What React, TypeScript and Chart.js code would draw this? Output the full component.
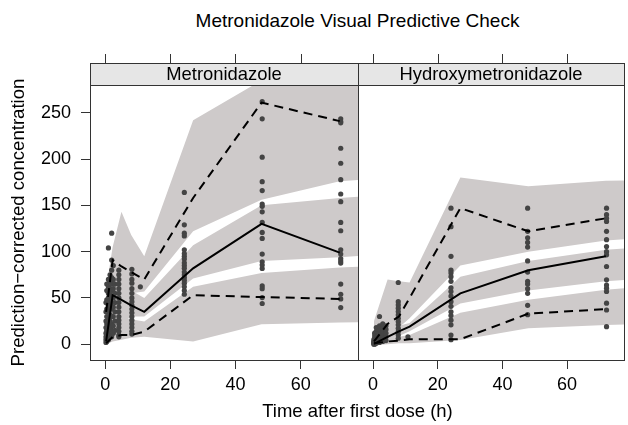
import React, { useEffect, useRef } from "react";
import { Chart, registerables } from "chart.js";

Chart.register(...registerables);

const FONT = "'Liberation Sans', Arial, Helvetica, sans-serif";
const BAND = "#cecaca";
const POINT = "#444444";
const FRAME = "#333333";
const STRIP_FILL = "#e6e6e6";
const STRIP_TOP = 63;

// ---------- shared axes ----------
const xTicks = [0, 20, 40, 60];
const yTicks = [0, 50, 100, 150, 200, 250];
const xRange = [-4.65, 77.6];
const yRange = [-17, 280];

// ---------- Metronidazole panel ----------
const binTimesMetro = [0.3, 2.3, 5, 8, 12, 27, 48, 72];
const medianMetro = [3, 53, 48, 42, 35, 82, 130, 99];
const p95Metro = [35, 91, 84, 78, 70, 158, 261, 241];
const p05Metro = [1, 8, 10, 10, 13.6, 53, 51, 49];

const bandTimesMetro = [0.3, 2.3, 5, 8, 12, 27, 48, 72, 80];
const hiUpperMetro = [60, 105, 143, 118, 95, 242, 285, 290, 290];
const loUpperMetro = [10, 40, 45, 55, 57, 122, 156, 176, 178];
const hiMidMetro = [30, 75, 65, 58, 50, 107, 150, 158, 160];
const loMidMetro = [2, 25, 22, 30, 30, 71, 90, 94, 96];
const hiLowMetro = [10, 25, 28, 27, 24.5, 62, 77, 83, 84];
const loLowMetro = [0, 3, 5, 7, 8, 3, 21.6, 23.4, 24];

const obsTimesMetro = [0.25, 0.5, 1, 1.5, 2, 2.5, 3, 4.2, 8.2, 10.8, 24.3, 48.2, 72.3];
const obsConcMetro = [
  [2, 5, 8, 12, 18, 25, 35, 45],
  [3, 8, 15, 22, 30, 38, 48, 58, 65],
  [5, 12, 20, 28, 35, 42, 50, 55, 62, 70, 104],
  [10, 18, 25, 32, 40, 47, 55, 60, 68, 75],
  [8, 15, 22, 30, 38, 45, 52, 58, 65, 72, 80, 91, 120],
  [12, 20, 30, 40, 50, 60, 70, 85],
  [15, 25, 35, 45, 55, 65],
  [8, 10, 14, 18, 22, 26, 30, 35, 40, 45, 50, 55, 60, 65, 70, 75, 80],
  [11, 14, 18, 22, 26, 30, 34, 38, 42, 46, 50, 55, 60, 66, 70, 76, 81],
  [62],
  [164, 129, 120, 117, 102, 98, 95, 92, 88, 85, 82, 78, 75, 72, 69, 66, 62, 58, 54],
  [262, 243.5, 202, 175.6, 166, 151.5, 149, 143, 131.6, 120.8, 114.3, 97.4, 89, 85.5, 81.8, 63, 60, 50.4, 44],
  [243.5, 240.6, 239.2, 211.7, 195.5, 177.8, 162.3, 154, 131.6, 122.6, 102, 97.4, 92.6, 90, 87.7, 65, 54, 49, 39.6],
];

// ---------- Hydroxymetronidazole panel ----------
const binTimesHydroxy = [0.3, 4.5, 8, 11.3, 27, 48, 72];
const medianHydroxy = [0.5, 8, 14, 19, 55, 80, 95];
const p95Hydroxy = [3, 22, 30, 50, 147, 122, 136];
const p05Hydroxy = [1, 3, 4, 5.4, 5.4, 33, 38];

const bandTimesHydroxy = [0.3, 4.5, 8, 11.3, 27, 48, 72, 80];
const hiUpperHydroxy = [25, 70, 68, 66.7, 180, 170.6, 176.5, 177];
const loUpperHydroxy = [1, 8, 18, 28, 85, 100, 112, 114];
const hiMidHydroxy = [6, 15, 20, 23, 73, 90, 102, 104];
const loMidHydroxy = [0, 4, 9, 14, 44, 58, 68, 70];
const hiLowHydroxy = [3, 6, 8, 10, 34, 48, 59, 61];
const loLowHydroxy = [-1, 0, 1, 1, 4.6, 17.3, 20.9, 21.5];

const obsTimesHydroxy = [0.25, 0.5, 1, 1.5, 2, 3, 4, 7.8, 10.8, 24.1, 47.8, 72.2];
const obsConcHydroxy = [
  [0, 1, 2, 3, 5],
  [0, 2, 4, 6, 9, 12],
  [1, 3, 5, 8, 11, 14, 18],
  [2, 4, 7, 10, 13, 16],
  [2, 5, 8, 12, 16, 20, 30],
  [3, 6, 10, 14, 18, 22],
  [4, 8, 12, 16, 20],
  [66.7, 46, 42.5, 39, 35.3, 31.7, 28, 24.5, 21, 17.3, 13.6, 10, 6.5],
  [8],
  [147, 127, 95, 80, 77, 73, 68, 61, 57, 52, 46, 41, 35, 31, 26, 21, 10, 5],
  [147, 122, 115, 110, 105, 90, 78, 68, 65, 60, 55, 42, 32],
  [147, 140, 136, 132.7, 122, 113, 105.6, 100, 96.6, 84, 69.6, 64, 60.6, 57, 44.4, 37, 19],
];

const panelLabels = ["Metronidazole", "Hydroxymetronidazole"];

type P = { x: number; y: number };
const zip = (xs: number[], ys: number[]): P[] => xs.map((x, i) => ({ x, y: ys[i] }));

function buildDatasets(p: any) {
  const pts: P[] = [];
  p.obsTimes.forEach((t: number, i: number) => {
    p.obsConc[i].forEach((c: number) => pts.push({ x: t, y: c }));
  });
  const line = (ys: number[], dashed: boolean) => ({
    data: zip(p.binTimes, ys),
    showLine: true,
    borderColor: "#000",
    borderWidth: 2,
    borderDash: dashed ? [9, 6] : [],
    pointRadius: 0,
    fill: false,
    tension: 0,
    order: 1,
  });
  const bandHi = (ys: number[]) => ({
    data: zip(p.bandTimes, ys),
    showLine: true,
    borderWidth: 0,
    borderColor: "rgba(0,0,0,0)",
    backgroundColor: BAND,
    pointRadius: 0,
    fill: "+1",
    tension: 0,
    clip: 0,
    order: 3,
  });
  const bandLo = (ys: number[]) => ({
    data: zip(p.bandTimes, ys),
    showLine: true,
    borderWidth: 0,
    borderColor: "rgba(0,0,0,0)",
    pointRadius: 0,
    fill: false,
    tension: 0,
    clip: 0,
    order: 3,
  });
  return [
    line(p.median, false),
    line(p.p95, true),
    line(p.p05, true),
    {
      data: pts,
      showLine: false,
      pointRadius: 2.6,
      pointBackgroundColor: POINT,
      pointBorderWidth: 0,
      borderColor: POINT,
      order: 2,
    },
    bandHi(p.hiUpper),
    bandLo(p.loUpper),
    bandHi(p.hiMid),
    bandLo(p.loMid),
    bandHi(p.hiLow),
    bandLo(p.loLow),
  ];
}

const panelPlugin = {
  id: "panelFrame",
  afterDraw(chart: any, _args: any, opts: any) {
    const { ctx, chartArea: ca, scales } = chart;
    ctx.save();
    const w = ca.right - ca.left;
    ctx.fillStyle = STRIP_FILL;
    ctx.fillRect(ca.left, STRIP_TOP, w, ca.top - STRIP_TOP);
    ctx.strokeStyle = FRAME;
    ctx.lineWidth = 1;
    ctx.strokeRect(ca.left + 0.5, STRIP_TOP + 0.5, w, ca.top - STRIP_TOP);
    ctx.strokeRect(ca.left + 0.5, ca.top + 0.5, w, ca.bottom - ca.top);
    ctx.fillStyle = "#000";
    ctx.font = `18.4px ${FONT}`;
    ctx.textAlign = "center";
    ctx.textBaseline = "middle";
    ctx.fillText(opts.label, (ca.left + ca.right) / 2, (STRIP_TOP + ca.top) / 2 + 1);
    const xs = scales.x;
    xs.ticks.forEach((t: any) => {
      const px = Math.round(xs.getPixelForValue(t.value)) + 0.5;
      ctx.beginPath();
      ctx.moveTo(px, STRIP_TOP);
      ctx.lineTo(px, STRIP_TOP - 9);
      ctx.stroke();
    });
    ctx.restore();
  },
};

function makeChart(canvas: HTMLCanvasElement, p: any, isLeft: boolean) {
  return new Chart(canvas, {
    type: "scatter",
    data: { datasets: buildDatasets(p) as any },
    plugins: [panelPlugin as any],
    options: {
      responsive: false,
      animation: false,
      devicePixelRatio: 1,
      layout: {
        padding: isLeft
          ? { left: 0, right: 270, top: 85, bottom: 25 }
          : { left: 358, right: 3, top: 85, bottom: 25 },
      },
      plugins: {
        legend: { display: false },
        tooltip: { enabled: false },
        panelFrame: { label: p.label },
      } as any,
      scales: {
        x: {
          type: "linear",
          min: xRange[0],
          max: xRange[1],
          afterBuildTicks: (s: any) => {
            s.ticks = xTicks.map((v) => ({ value: v }));
          },
          afterFit: (s: any) => {
            s.height = 40;
          },
          ticks: {
            font: { family: FONT, size: 18 },
            color: "#000",
            padding: 5,
            maxRotation: 0,
            autoSkip: false,
          },
          grid: {
            drawOnChartArea: false,
            drawTicks: true,
            tickLength: 9,
            color: FRAME,
          },
          border: { display: false },
        },
        y: {
          type: "linear",
          display: isLeft,
          min: yRange[0],
          max: yRange[1],
          afterBuildTicks: (s: any) => {
            s.ticks = yTicks.map((v) => ({ value: v }));
          },
          afterFit: (s: any) => {
            s.width = isLeft ? 90 : 0;
          },
          ticks: {
            font: { family: FONT, size: 18 },
            color: "#000",
            padding: 10,
            autoSkip: false,
          },
          grid: {
            drawOnChartArea: false,
            drawTicks: true,
            tickLength: 9,
            color: FRAME,
          },
          border: { display: false },
          title: {
            display: true,
            text: "Prediction\u2212corrected concentration",
            font: { family: FONT, size: 18.6 },
            color: "#000",
            padding: { top: 7.5, bottom: 0 },
          },
        },
      },
    } as any,
  });
}

export default function App() {
  const c1 = useRef<HTMLCanvasElement>(null);
  const c2 = useRef<HTMLCanvasElement>(null);

  useEffect(() => {
    const metro = {
      label: panelLabels[0],
      binTimes: binTimesMetro,
      median: medianMetro,
      p95: p95Metro,
      p05: p05Metro,
      bandTimes: bandTimesMetro,
      hiUpper: hiUpperMetro,
      loUpper: loUpperMetro,
      hiMid: hiMidMetro,
      loMid: loMidMetro,
      hiLow: hiLowMetro,
      loLow: loLowMetro,
      obsTimes: obsTimesMetro,
      obsConc: obsConcMetro,
    };
    const hydroxy = {
      label: panelLabels[1],
      binTimes: binTimesHydroxy,
      median: medianHydroxy,
      p95: p95Hydroxy,
      p05: p05Hydroxy,
      bandTimes: bandTimesHydroxy,
      hiUpper: hiUpperHydroxy,
      loUpper: loUpperHydroxy,
      hiMid: hiMidHydroxy,
      loMid: loMidHydroxy,
      hiLow: hiLowHydroxy,
      loLow: loLowHydroxy,
      obsTimes: obsTimesHydroxy,
      obsConc: obsConcHydroxy,
    };
    const a = makeChart(c1.current!, metro, true);
    const b = makeChart(c2.current!, hydroxy, false);
    return () => {
      a.destroy();
      b.destroy();
    };
  }, []);

  const titleFont = 19;
  const textFont = 18.5;
  return (
    <div
      style={{
        position: "fixed",
        left: 0,
        top: 0,
        width: 628,
        height: 425,
        background: "#fff",
        overflow: "hidden",
        fontFamily: FONT,
      }}
    >
      <div
        style={{
          position: "absolute",
          left: 90,
          width: 535,
          top: 20 - titleFont / 2,
          fontSize: titleFont,
          lineHeight: `${titleFont}px`,
          textAlign: "center",
          color: "#000",
          whiteSpace: "nowrap",
        }}
      >
        Metronidazole Visual Predictive Check
      </div>
      <canvas
        ref={c1}
        width={628}
        height={425}
        style={{ position: "absolute", left: 0, top: 0, width: 628, height: 425 }}
      />
      <canvas
        ref={c2}
        width={628}
        height={425}
        style={{ position: "absolute", left: 0, top: 0, width: 628, height: 425 }}
      />
      <div
        style={{
          position: "absolute",
          left: 90,
          width: 535,
          top: 411 - textFont / 2,
          fontSize: textFont,
          lineHeight: `${textFont}px`,
          textAlign: "center",
          color: "#000",
          whiteSpace: "nowrap",
        }}
      >
        Time after first dose (h)
      </div>
    </div>
  );
}
